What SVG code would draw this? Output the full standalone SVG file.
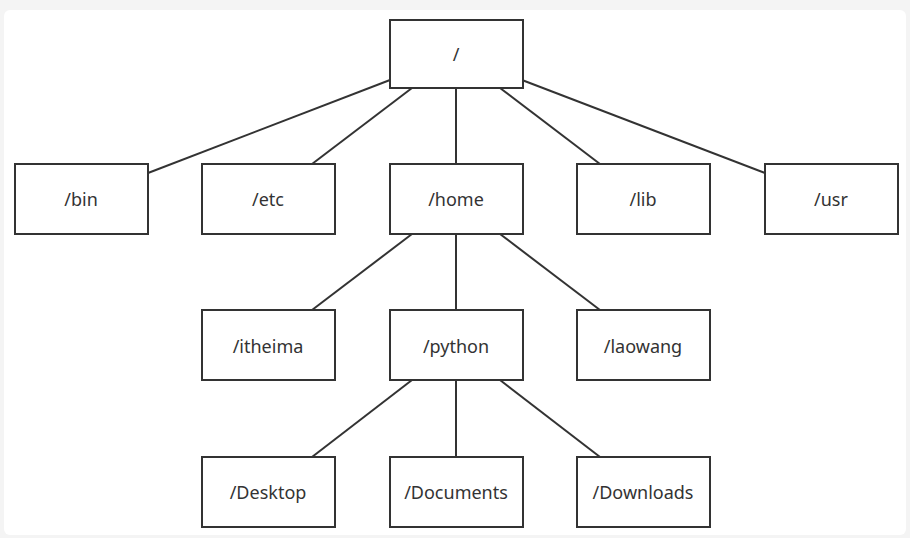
<svg xmlns="http://www.w3.org/2000/svg" width="910" height="538" viewBox="0 0 910 538">
<style>
.box{fill:#fff;stroke:#333;stroke-width:2}
.lbl{font-family:"Noto Sans","Liberation Sans",sans-serif;font-size:18px;fill:#333;text-anchor:middle;dominant-baseline:central}
.ln{stroke:#333;stroke-width:2;fill:none}
</style>
<rect x="0" y="0" width="910" height="538" fill="#f4f4f4"/>
<rect x="4" y="10" width="902" height="525" rx="6" fill="#fff"/>
<g id="connectors">
<line class="ln" x1="390" y1="80" x2="148" y2="173"/>
<line class="ln" x1="412" y1="88" x2="312" y2="164"/>
<line class="ln" x1="456" y1="88" x2="456" y2="164"/>
<line class="ln" x1="500" y1="88" x2="600" y2="164"/>
<line class="ln" x1="522" y1="80" x2="765" y2="173"/>
<line class="ln" x1="412" y1="234" x2="312" y2="310"/>
<line class="ln" x1="456" y1="234" x2="456" y2="310"/>
<line class="ln" x1="500" y1="234" x2="600" y2="310"/>
<line class="ln" x1="412" y1="380" x2="312" y2="457"/>
<line class="ln" x1="456" y1="380" x2="456" y2="457"/>
<line class="ln" x1="500" y1="380" x2="600" y2="457"/>
</g>
<g id="root"><rect class="box" x="390" y="20" width="133" height="68"/><text class="lbl" x="456" y="54">/</text></g>
<g id="bin"><rect class="box" x="15" y="164" width="133" height="70"/><text class="lbl" x="81" y="199">/bin</text></g>
<g id="etc"><rect class="box" x="202" y="164" width="133" height="70"/><text class="lbl" x="268" y="199">/etc</text></g>
<g id="home"><rect class="box" x="390" y="164" width="133" height="70"/><text class="lbl" x="456" y="199">/home</text></g>
<g id="lib"><rect class="box" x="577" y="164" width="133" height="70"/><text class="lbl" x="643" y="199">/lib</text></g>
<g id="usr"><rect class="box" x="765" y="164" width="133" height="70"/><text class="lbl" x="831" y="199">/usr</text></g>
<g id="itheima"><rect class="box" x="202" y="310" width="133" height="70"/><text class="lbl" x="268" y="346">/itheima</text></g>
<g id="python"><rect class="box" x="390" y="310" width="133" height="70"/><text class="lbl" x="456" y="346">/python</text></g>
<g id="laowang"><rect class="box" x="577" y="310" width="133" height="70"/><text class="lbl" x="643" y="346">/laowang</text></g>
<g id="desktop"><rect class="box" x="202" y="457" width="133" height="70"/><text class="lbl" x="268" y="492">/Desktop</text></g>
<g id="documents"><rect class="box" x="390" y="457" width="133" height="70"/><text class="lbl" x="456" y="492">/Documents</text></g>
<g id="downloads"><rect class="box" x="577" y="457" width="133" height="70"/><text class="lbl" x="643" y="492">/Downloads</text></g>
</svg>
